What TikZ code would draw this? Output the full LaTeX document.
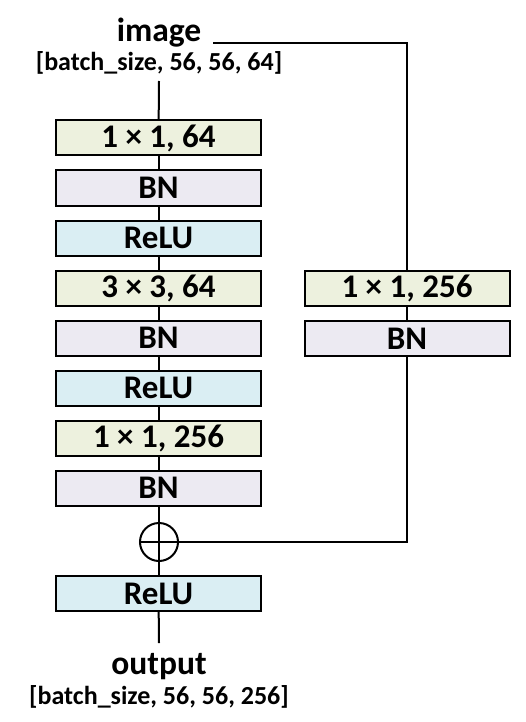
\documentclass[tikz,border=0pt]{standalone}
\usepackage{fontspec}
\setmainfont{Carlito}
\usepackage{xcolor}
\usepackage{tikz}
\usetikzlibrary{calc}

\definecolor{convfill}{RGB}{237,241,222}
\definecolor{bnfill}{RGB}{236,234,242}
\definecolor{relufill}{RGB}{218,238,243}

\tikzset{
    layer/.style={draw=black, line width=2pt, minimum width=205pt, minimum height=35pt, inner sep=0pt,
        font=\fontsize{33}{36}\selectfont\bfseries},
    convbox/.style={layer, fill=convfill},
    bnbox/.style={layer, fill=bnfill},
    relubox/.style={layer, fill=relufill},
    link/.style={line width=2pt}
}

\begin{document}
\begin{tikzpicture}[x=1pt, y=-1pt]

            \useasboundingbox (0,0) rectangle (525,722);

            % Input labels
            \node[font=\fontsize{33.5}{36}\selectfont\bfseries] (img) at (159,33) {image};
            \node[font=\fontsize{26}{29}\selectfont\bfseries] (inshape) at (159,63) {[batch\_size, 56, 56, 64]};
            \coordinate (intop) at (159,81);
            \coordinate (skipstart) at (213,43);

            % Main branch
            \node[convbox] (b1) at (158.5,138) {1 × 1, 64};
            \node[bnbox] (b2) at (158.5,188) {BN};
            \node[relubox] (b3) at (158.5,238) {ReLU};
            \node[convbox] (b4) at (158.5,288) {3 × 3, 64};
            \node[bnbox] (b5) at (158.5,338) {BN};
            \node[relubox] (b6) at (158.5,388) {ReLU};
            \node[convbox] (b7) at (158.5,438) {1 × 1, 256};
            \node[bnbox] (b8) at (158.5,488) {BN};

            % Shortcut branch
            \node[convbox] (s1) at (407,288.5) {1 × 1, 256};
            \node[bnbox] (s2) at (407,338.5) {BN};

            % Addition and output
            \node[draw=black, line width=2pt, circle, minimum size=38pt, inner sep=0pt] (add) at (159,542) {};
            \node[relubox] (b9) at (158.5,593.5) {ReLU};
            \coordinate (outbot) at (159,643);
            \node[font=\fontsize{33.5}{36}\selectfont\bfseries] (out) at (159,667) {output};
            \node[font=\fontsize{26}{29}\selectfont\bfseries] (outshape) at (159,697) {[batch\_size, 56, 56, 256]};

            % Connections
            \draw[link] (intop) -- (b1);
            \foreach \u/\v in {b1/b2, b2/b3, b3/b4, b4/b5, b5/b6, b6/b7, b7/b8}
                \draw[link] (\u) -- (\v);
            \draw[link] (b8.south) -- (b9.north);
            \draw[link] (b9) -- (outbot);
            \draw[link] (skipstart) -| (s1);
            \draw[link] (s1) -- (s2);
            \draw[link] (s2) |- (add.west);

        \end{tikzpicture}
\end{document}
